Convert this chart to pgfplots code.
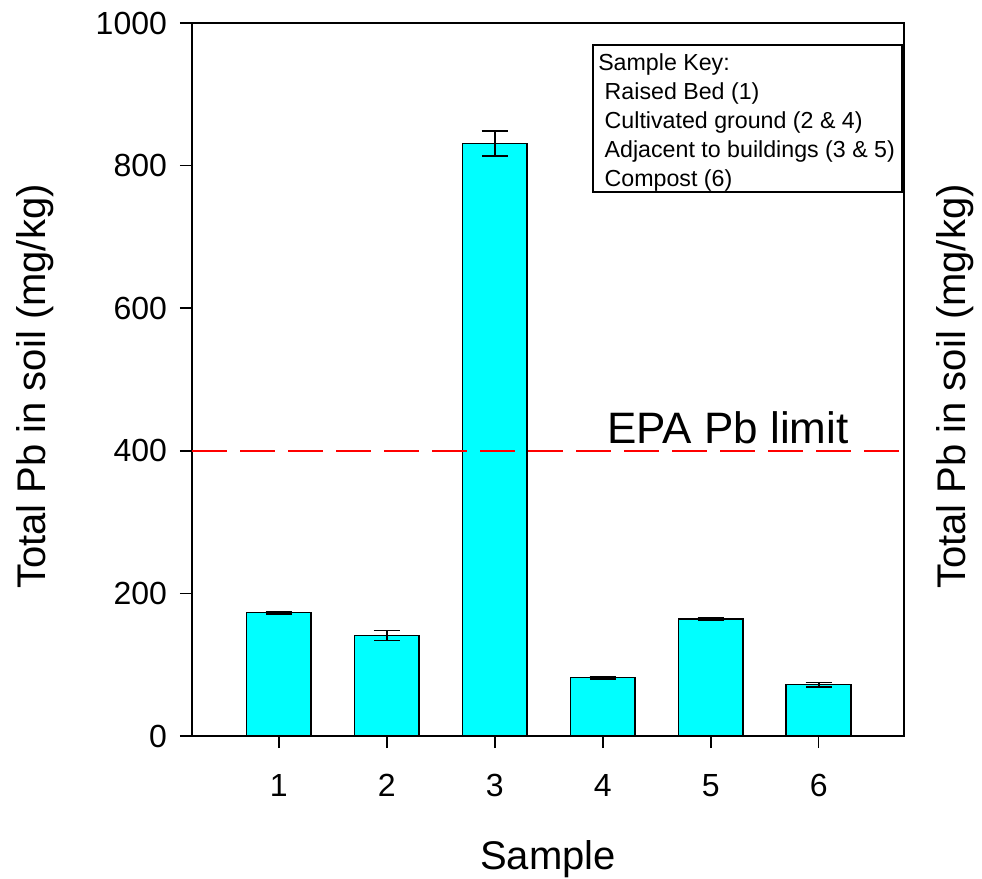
\documentclass[border=0pt]{standalone}
\usepackage{fontspec}
\setmainfont{Liberation Sans}
\usepackage{pgfplots}
\pgfplotsset{compat=1.18}
\definecolor{barcyan}{RGB}{0,255,255}
\begin{document}
\begin{tikzpicture}
\begin{axis}[
  name=ax,
  scale only axis,
  width=356pt, height=356.5pt,
  xmin=0.197, xmax=6.79,
  ymin=0, ymax=1000,
  xtick={1,2,3,4,5,6},
  ytick={0,200,400,600,800,1000},
  tick align=outside,
  xtick pos=bottom, ytick pos=left,
  major tick length=6pt,
  axis line style={line width=0.8pt},
  every tick/.style={black, line width=0.8pt},
  /pgf/number format/assume math mode=true,
  /pgf/number format/1000 sep={},
  ticklabel style={font=\fontsize{16}{19}\selectfont},
  xticklabel style={yshift=-9.5pt},
  yticklabel style={xshift=-3pt},
  clip=false,
]
\addplot[ybar, bar width=0.6, fill=barcyan, draw=black, line width=0.8pt,
  error bars/.cd, y dir=both, y explicit,
  error bar style={line width=0.9pt, black},
  error mark options={rotate=90, mark size=6.5pt, line width=0.9pt, black}]
  coordinates {
  (1,173) +- (0,1.5)
  (2,141) +- (0,7)
  (3,831) +- (0,17)
  (4,82) +- (0,1.5)
  (5,164) +- (0,1.5)
  (6,72) +- (0,3)
  };
\addplot[red, line width=1pt, dash pattern=on 17.5pt off 6.5pt, forget plot]
  coordinates {(0.197,400) (6.79,400)};
\node[font=\fontsize{22}{26}\selectfont, anchor=center] at (axis cs:5.16,433) {EPA Pb limit};
\draw[line width=0.8pt] (axis description cs:0.563,0.969) rectangle (axis description cs:0.997,0.763);
\node[anchor=north west, align=left, inner sep=0pt, font=\fontsize{11.6}{14.5}\selectfont]
  at ([xshift=2.5pt,yshift=-4pt]axis description cs:0.563,0.969)
  {Sample Key:\\ \ Raised Bed (1)\\ \ Cultivated ground (2 \& 4)\\ \ Adjacent to buildings (3 \& 5)\\ \ Compost (6)};
\node[rotate=90, font=\fontsize{20}{24}\selectfont] at ([xshift=-78.5pt]axis description cs:0,0.49) {Total Pb in soil (mg/kg)};
\node[rotate=90, font=\fontsize{20}{24}\selectfont] at ([xshift=25.5pt]axis description cs:1,0.49) {Total Pb in soil (mg/kg)};
\node[font=\fontsize{20}{24}\selectfont] at ([yshift=-61.5pt]axis description cs:0.5,0) {Sample};
\end{axis}
\pgfresetboundingbox
\path (ax.south west) ++(-96pt,-71pt) coordinate (bbsw);
\path (ax.north east) ++(39pt,11.5pt) coordinate (bbne);
\path[use as bounding box] (bbsw) rectangle (bbne);
\end{tikzpicture}
\end{document}
